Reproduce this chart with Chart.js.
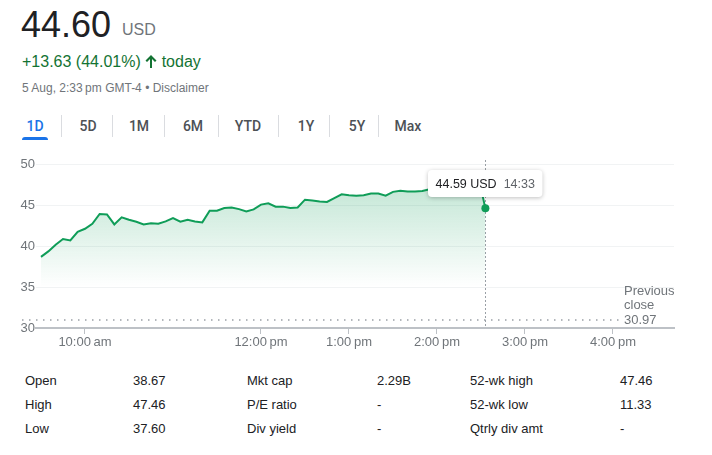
<!DOCTYPE html>
<html lang="en">
<head>
    <meta charset="UTF-8">
    <title>44.60 USD</title>
    <script src="https://cdn.jsdelivr.net/npm/chart.js"></script>
    <style>
        body {
            margin: 0;
            width: 712px;
            height: 455px;
            background: #fff;
            font-family: "Liberation Sans", Arial, sans-serif;
            position: relative;
            overflow: hidden;
        }
        .abs { position: absolute; white-space: nowrap; }
        .price { left: 21px; top: 5px; font-size: 36px; color: #202124; line-height: 40px; }
        .cur { left: 122px; top: 20px; font-size: 16px; color: #70757a; line-height: 20px; }
        .change { left: 22px; top: 52px; font-size: 16px; color: #137333; line-height: 20px; }
        .change svg { vertical-align: -1px; }
        .date { left: 22px; top: 80px; font-size: 12px; color: #70757a; line-height: 16px; }
        .tab { top: 118px; font-family: Roboto, Arial, sans-serif; font-weight: 500; font-size: 14px; color: #4d5156; line-height: 16px; transform: translateX(-50%); }
        .tab.on { color: #1a73e8; }
        .sep { top: 115px; width: 1px; height: 22px; background: #dadce0; }
        .ul { left: 22px; top: 137px; width: 26px; height: 3px; background: #1a73e8; border-radius: 3px 3px 0 0; }
        #wrap { position: absolute; left: 0; top: 150px; width: 712px; height: 210px; }
        .st { font-size: 13px; color: #202124; line-height: 16px; }
    </style>
</head>
<body>
    <div class="abs price">44.60</div>
    <div class="abs cur">USD</div>
    <div class="abs change">+13.63 (44.01%) <svg width="12" height="13" viewBox="0 0 12 13"><path d="M6 0 L11.5 5.5 L10 7 L7 4 L7 13 L5 13 L5 4 L2 7 L0.5 5.5 Z" fill="#137333"/></svg> today</div>
    <div class="abs date">5 Aug, 2:33&#8201;pm GMT-4 • Disclaimer</div>

    <div id="tabs"></div>
    <div class="abs ul"></div>

    <div id="wrap"><canvas id="myChart" width="712" height="210"></canvas></div>
    <div id="stats"></div>

    <script>
        // intraday prices (5 min steps, last one is the live quote)
        const times = [
            '9:30', '9:35', '9:40', '9:45', '9:50', '9:55',
            '10:00', '10:05', '10:10', '10:15', '10:20', '10:25', '10:30', '10:35', '10:40', '10:45', '10:50', '10:55',
            '11:00', '11:05', '11:10', '11:15', '11:20', '11:25', '11:30', '11:35', '11:40', '11:45', '11:50', '11:55',
            '12:00', '12:05', '12:10', '12:15', '12:20', '12:25', '12:30', '12:35', '12:40', '12:45', '12:50', '12:55',
            '13:00', '13:05', '13:10', '13:15', '13:20', '13:25', '13:30', '13:35', '13:40', '13:45', '13:50', '13:55',
            '14:00', '14:05', '14:10', '14:15', '14:20', '14:25', '14:30', '14:33'
        ];
        const prices = [
            38.67, 39.34, 40.16, 40.85, 40.68, 41.74,
            42.10, 42.70, 43.90, 43.85, 42.63, 43.50, 43.20, 42.96, 42.63, 42.76, 42.72, 43.00,
            43.40, 42.96, 43.20, 43.00, 42.88, 44.30, 44.30, 44.63, 44.70, 44.50, 44.22, 44.47,
            45.05, 45.20, 44.80, 44.80, 44.63, 44.70, 45.65, 45.56, 45.44, 45.37, 45.85, 46.30,
            46.20, 46.13, 46.20, 46.40, 46.40, 46.13, 46.60, 46.74, 46.66, 46.66, 46.70, 46.92,
            47.10, 47.20, 47.10, 47.30, 47.25, 47.46, 47.00, 44.59
        ];
        const yTicks = [30, 35, 40, 45, 50];
        const xTickTimes = ['10:00', '12:00', '13:00', '14:00', '15:00', '16:00'];
        const xTickLabels = ['10:00\u2009am', '12:00\u2009pm', '1:00\u2009pm', '2:00\u2009pm', '3:00\u2009pm', '4:00\u2009pm'];
        const prevClose = 30.97;
        const tipPrice = '44.59 USD';
        const tipTime = '14:33';

        const tabs = ['1D', '5D', '1M', '6M', 'YTD', '1Y', '5Y', 'Max'];
        const statLabels = [['Open', 'High', 'Low'], ['Mkt cap', 'P/E ratio', 'Div yield'], ['52-wk high', '52-wk low', 'Qtrly div amt']];
        const statValues = [['38.67', '47.46', '37.60'], ['2.29B', '-', '-'], ['47.46', '11.33', '-']];

        // tabs row
        const tabX = [35, 88, 139, 193, 248, 306, 357, 408];
        const sepX = [61, 112, 164, 218, 278, 329, 378];
        const tabBox = document.getElementById('tabs');
        tabs.forEach((t, i) => {
            const d = document.createElement('div');
            d.className = 'abs tab' + (i === 0 ? ' on' : '');
            d.style.left = tabX[i] + 'px';
            d.textContent = t;
            tabBox.appendChild(d);
        });
        sepX.forEach(x => {
            const s = document.createElement('div');
            s.className = 'abs sep';
            s.style.left = x + 'px';
            tabBox.appendChild(s);
        });

        // stats table
        const colX = [[25, 133], [247, 377], [470, 620]];
        const rowY = [373, 397, 421];
        const statBox = document.getElementById('stats');
        statLabels.forEach((col, c) => {
            col.forEach((lab, r) => {
                [lab, statValues[c][r]].forEach((txt, k) => {
                    const d = document.createElement('div');
                    d.className = 'abs st';
                    d.style.left = colX[c][k] + 'px';
                    d.style.top = rowY[r] + 'px';
                    d.textContent = txt;
                    statBox.appendChild(d);
                });
            });
        });

        function toMin(t) {
            const p = t.split(':');
            return +p[0] * 60 + +p[1];
        }

        const points = times.map((t, i) => ({ x: toMin(t), y: prices[i] }));
        const last = points.length - 1;
        const green = '#0f9d58';

        const overlay = {
            id: 'overlay',
            beforeDatasetsDraw(chart) {
                const { ctx, chartArea, scales } = chart;
                const yp = scales.y.getPixelForValue(prevClose);
                ctx.save();
                // previous close dotted line
                ctx.strokeStyle = '#9aa0a6';
                ctx.lineWidth = 1.5;
                ctx.setLineDash([1.5, 5.5]);
                ctx.beginPath();
                ctx.moveTo(22, yp);
                ctx.lineTo(620, yp);
                ctx.stroke();
                // crosshair at the live point
                const xp = scales.x.getPixelForValue(points[last].x);
                ctx.lineWidth = 1;
                ctx.strokeStyle = '#9aa0a6';
                ctx.setLineDash([2, 2]);
                ctx.beginPath();
                ctx.moveTo(Math.round(xp) + 0.5, chartArea.top - 4);
                ctx.lineTo(Math.round(xp) + 0.5, chartArea.bottom);
                ctx.stroke();
                ctx.restore();
            },
            afterDatasetsDraw(chart) {
                const { ctx, chartArea, scales } = chart;
                ctx.save();
                // previous close label
                const yp = scales.y.getPixelForValue(prevClose);
                ctx.font = '13px "Liberation Sans", Arial, sans-serif';
                ctx.fillStyle = '#70757a';
                ctx.textBaseline = 'middle';
                ctx.fillText('Previous', 624, yp - 29);
                ctx.fillText('close', 624, yp - 14.5);
                ctx.fillText(prevClose.toFixed(2), 624, yp);

                // tooltip box
                const xp = scales.x.getPixelForValue(points[last].x);
                ctx.font = '12.5px "Liberation Sans", Arial, sans-serif';
                const w1 = ctx.measureText(tipPrice).width;
                const w2 = ctx.measureText(tipTime).width;
                const w = w1 + w2 + 7 + 15;
                const h = 27;
                const bx = Math.round(xp - w / 2);
                const by = chartArea.top + 6;
                ctx.shadowColor = 'rgba(0,0,0,0.25)';
                ctx.shadowBlur = 4;
                ctx.shadowOffsetY = 1;
                ctx.fillStyle = '#fff';
                ctx.beginPath();
                ctx.roundRect(bx, by, w, h, 4);
                ctx.fill();
                ctx.shadowColor = 'transparent';
                ctx.fillStyle = '#202124';
                ctx.fillText(tipPrice, bx + 7.5, by + h / 2 + 1);
                ctx.fillStyle = '#5f6368';
                ctx.fillText(tipTime, bx + 7.5 + w1 + 7, by + h / 2 + 1);
                ctx.restore();
            }
        };

        const ctx = document.getElementById('myChart').getContext('2d');
        new Chart(ctx, {
            type: 'line',
            data: {
                datasets: [{
                    data: points,
                    borderColor: green,
                    borderWidth: 2,
                    tension: 0,
                    fill: 'origin',
                    backgroundColor: (c) => {
                        const ch = c.chart;
                        if (!ch.chartArea) return 'rgba(15,157,88,0.1)';
                        const g = ch.ctx.createLinearGradient(0, ch.scales.y.getPixelForValue(47), 0, ch.scales.y.getPixelForValue(35));
                        g.addColorStop(0, 'rgba(15,157,88,0.24)');
                        g.addColorStop(1, 'rgba(15,157,88,0)');
                        return g;
                    },
                    pointRadius: (c) => c.dataIndex === last ? 4 : 0,
                    pointBackgroundColor: green,
                    pointBorderWidth: 0
                }]
            },
            options: {
                responsive: false,
                animation: false,
                maintainAspectRatio: false,
                events: [],
                layout: { padding: { top: 14, right: 38, left: 0, bottom: 0 } },
                plugins: { legend: { display: false }, tooltip: { enabled: false } },
                scales: {
                    x: {
                        type: 'linear',
                        min: 566.6,
                        max: 1001.6,
                        afterBuildTicks: (s) => { s.ticks = xTickTimes.map(t => ({ value: toMin(t) })); },
                        afterFit: (s) => { s.height = 32; },
                        ticks: {
                            autoSkip: false,
                            maxRotation: 0,
                            padding: 1,
                            color: '#70757a',
                            font: { size: 13, family: '"Liberation Sans", Arial, sans-serif' },
                            callback: (v) => xTickLabels[xTickTimes.map(toMin).indexOf(v)]
                        },
                        grid: { drawOnChartArea: false, drawTicks: true, tickLength: 6, color: '#bdc1c6', lineWidth: 1 },
                        border: { display: true, color: '#bdc1c6', width: 2 }
                    },
                    y: {
                        min: yTicks[0],
                        max: yTicks[yTicks.length - 1],
                        afterBuildTicks: (s) => { s.ticks = yTicks.map(v => ({ value: v })); },
                        afterFit: (s) => { s.width = 36; },
                        ticks: {
                            padding: 1,
                            color: '#70757a',
                            font: { size: 13, family: '"Liberation Sans", Arial, sans-serif' }
                        },
                        grid: { drawTicks: false, color: '#f1f3f4', lineWidth: 1 },
                        border: { display: false }
                    }
                }
            },
            plugins: [overlay]
        });
    </script>
</body>
</html>
